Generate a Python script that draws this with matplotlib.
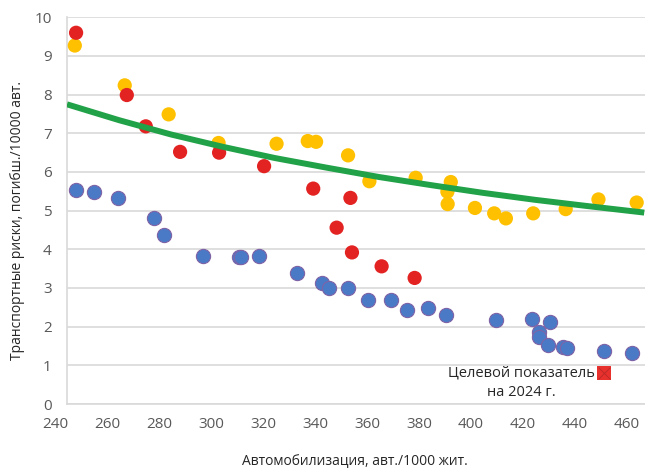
import matplotlib
matplotlib.use("Agg")
import matplotlib.pyplot as plt
import matplotlib.transforms as mtransforms

plt.rcParams['font.family'] = ['Open Sans', 'DejaVu Sans']

# ---- data ----
blue_x = [243.5, 250.5, 259.5, 273.6, 277.2, 292.2, 306.2, 307.0, 314.0, 328.6, 338.0,
          340.6, 348.2, 355.8, 364.7, 370.6, 379.0, 385.9, 405.0, 419.0, 421.7, 421.7,
          425.9, 425.0, 430.9, 432.2, 446.5, 457.4]
blue_y = [5.53, 5.47, 5.32, 4.80, 4.38, 3.83, 3.80, 3.81, 3.83, 3.40, 3.14,
          3.01, 3.01, 2.69, 2.70, 2.44, 2.48, 2.30, 2.16, 2.21, 1.85, 1.72,
          2.11, 1.53, 1.48, 1.45, 1.38, 1.33]

yellow_x = [243.0, 262.2, 279.1, 298.3, 320.6, 332.6, 335.8, 348.1, 356.3, 374.1,
            387.6, 386.3, 386.4, 396.9, 404.3, 408.8, 419.3, 431.8, 444.4, 459.1]
yellow_y = [9.27, 8.24, 7.49, 6.75, 6.73, 6.80, 6.78, 6.43, 5.76, 5.85,
            5.74, 5.49, 5.17, 5.07, 4.93, 4.80, 4.93, 5.04, 5.29, 5.21]

red_x = [243.5, 263.0, 270.3, 283.5, 298.5, 315.8, 334.7, 349.0, 343.7, 349.6, 361.0, 373.7]
red_y = [9.60, 7.99, 7.18, 6.52, 6.50, 6.15, 5.57, 5.33, 4.56, 3.92, 3.56, 3.26]

trend_x = [240, 260, 280, 300, 320, 340, 360, 380, 400, 420, 440, 462]
trend_y = [7.75, 7.34, 6.97, 6.65, 6.36, 6.11, 5.87, 5.66, 5.46, 5.28, 5.12, 4.95]

target_x = [446.4]
target_y = [0.81]

x_ticks = [240, 260, 280, 300, 320, 340, 360, 380, 400, 420, 440, 460]
y_ticks = [0, 1, 2, 3, 4, 5, 6, 7, 8, 9, 10]

x_title = "Автомобилизация, авт./1000 жит."
y_title = "Транспортные риски, погибш./10000 авт."
target_line1 = "Целевой показатель"
target_line2 = "на 2024 г."

# ---- figure ----
fig = plt.figure(figsize=(6.45, 4.70), dpi=100)
ax = fig.add_axes([67 / 645, 1 - 404 / 470, 1 - 67 / 645, (404 - 17.3) / 470])
ax.set_xlim(240, 462.3)
ax.set_ylim(0, 10)

grid_c = '#D9D9D9'
ax.set_yticks(y_ticks)
ax.set_xticks(x_ticks)
ax.yaxis.grid(True, color=grid_c, linewidth=1.2)
ax.xaxis.grid(False)
ax.set_axisbelow(True)
for s in ['top', 'right']:
    ax.spines[s].set_visible(False)
ax.spines['left'].set_color(grid_c)
ax.spines['left'].set_linewidth(1.2)
ax.spines['bottom'].set_color(grid_c)
ax.spines['bottom'].set_linewidth(1.2)
ax.tick_params(axis='both', length=0, labelsize=11, labelcolor='#595959')
ax.tick_params(axis='y', pad=11)
ax.tick_params(axis='x', pad=9)

# shift x tick labels left like in the reference
offset = mtransforms.ScaledTranslation(-12 / 100, 0, fig.dpi_scale_trans)
for lab in ax.get_xticklabels():
    lab.set_transform(lab.get_transform() + offset)

ms = 105
ax.scatter(blue_x, blue_y, s=ms, color='#4A7AC6', edgecolors='#7E63A6',
           linewidths=0.8, zorder=3)
ax.scatter(yellow_x, yellow_y, s=ms, color='#FFC000', edgecolors='none', zorder=4)
ax.scatter(red_x, red_y, s=ms, color='#E32222', edgecolors='none', zorder=5)
ax.plot(trend_x, trend_y, color='#21A148', linewidth=4.3, solid_capstyle='butt',
        zorder=6)

# target marker
ax.scatter(target_x, target_y, s=100, marker='s', color='#E8302C',
           edgecolors='none', zorder=7, clip_on=False)
ax.scatter(target_x, target_y, s=70, marker='x', color='#B82A28',
           linewidths=0.6, zorder=8, clip_on=False)
ax.annotate(target_line1, xy=(target_x[0], target_y[0]), xytext=(-9, 0),
            textcoords='offset pixels', ha='right', va='center',
            fontsize=10.5, color='#262626', zorder=9)
ax.annotate(target_line2, xy=(target_x[0], target_y[0]), xytext=(-82, -20),
            textcoords='offset pixels', ha='center', va='center',
            fontsize=10.5, color='#262626', zorder=9)

fig.text(355 / 645, 1 - 462 / 470, x_title, ha='center', va='center',
         fontsize=10, color='#262626')
fig.text(18 / 645, 1 - 220 / 470, y_title, ha='center', va='center',
         rotation=90, fontsize=10, color='#262626')

fig.savefig('out.png', dpi=100)
